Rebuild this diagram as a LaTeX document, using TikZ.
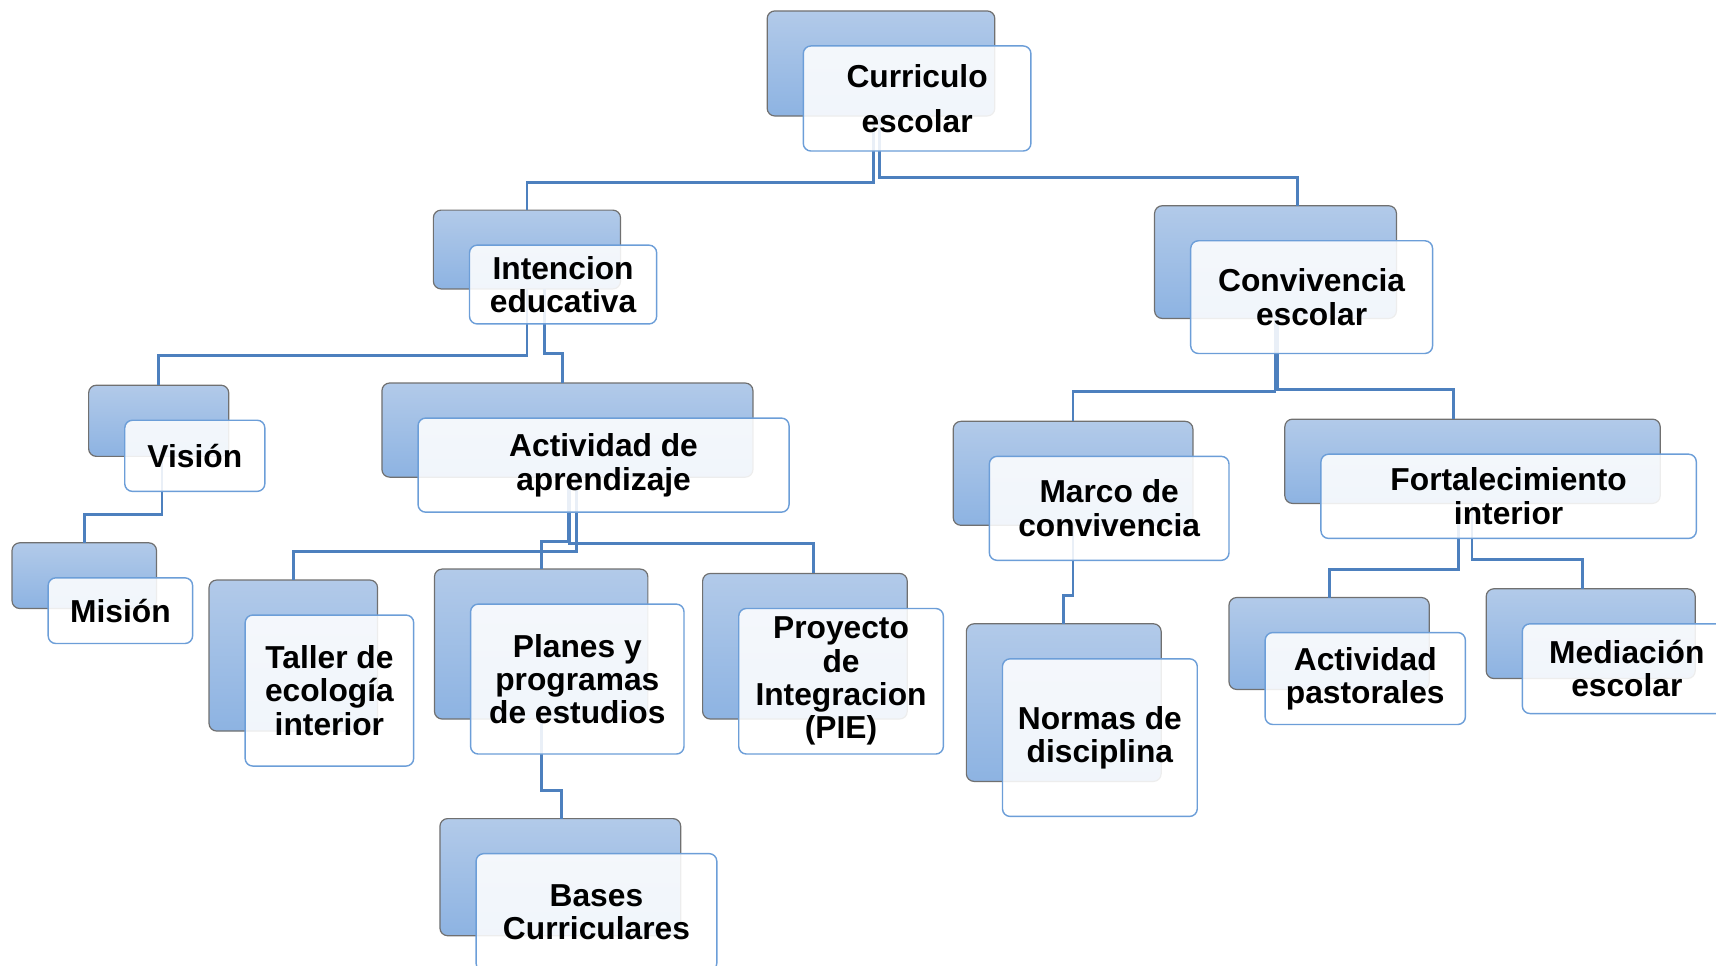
\documentclass[tikz,border=0pt]{standalone}
\usepackage{fontspec}
\setmainfont{Liberation Sans}
\definecolor{backtop}{RGB}{178,202,233}
\definecolor{backbot}{RGB}{141,179,226}
\definecolor{backedge}{RGB}{112,112,112}
\definecolor{frontedge}{RGB}{108,158,216}
\definecolor{connc}{RGB}{77,128,190}
\pgfdeclarelayer{backl}
\pgfdeclarelayer{connl}
\pgfsetlayers{backl,connl,main}
\tikzset{
  backbox/.style={rounded corners=7pt, draw=backedge, line width=1.1pt,
    top color=backtop, bottom color=backbot, inner sep=0pt, outer sep=0pt},
  frontbox/.style={rounded corners=7pt, draw=frontedge, line width=1.3pt,
    fill=white, fill opacity=0.88, text opacity=1, inner sep=0pt, outer sep=0pt,
    align=center, font={\fontsize{29}{30.5}\selectfont\bfseries}},
  conn/.style={draw=connc, line width=2.6pt},
}
\newcommand\duo[7][]{%
  \begin{pgfonlayer}{backl}
  \node[backbox, minimum width=#5, minimum height=#6, anchor=north west] (#2b) at (#3,#4) {};
  \end{pgfonlayer}
  \node[frontbox, minimum width=#5, minimum height=#6, anchor=north west, #1] (#2) at ({#3+33},{#4+32}) {#7};
}
\begin{document}
\begin{tikzpicture}[x=1pt, y=-1pt]
\useasboundingbox (0,0) rectangle (1568,882);
\duo[font={\fontsize{29}{41}\selectfont\bfseries}]{cur}{701}{10}{208}{96}{Curriculo\\escolar}
\duo{int}{396}{192}{171}{72}{Intencion\\educativa}
\duo{con}{1055}{188}{221}{103}{Convivencia\\escolar}
\duo{vis}{81}{352}{128}{65}{Visión}
\duo{mis}{11}{496}{132}{60}{Misión}
\duo{act}{349}{350}{339}{86}{Actividad de\\aprendizaje}
\duo{tal}{191}{530}{154}{138}{Taller de\\ecología\\interior}
\duo{pla}{397}{520}{195}{137}{Planes y\\programas\\de estudios}
\duo{pro}{642}{524}{187}{133}{Proyecto\\de\\Integracion\\(PIE)}
\duo{bas}{402}{748}{220}{107}{Bases\\Curriculares}
\duo{mar}{871}{385}{219}{95}{Marco de\\convivencia}
\duo{for}{1174}{383}{343}{77}{Fortalecimiento\\interior}
\duo{nor}{883}{570}{178}{144}{Normas de\\disciplina}
\duo{pas}{1123}{546}{183}{84}{Actividad\\pastorales}
\duo{med}{1358}{538}{191}{82}{Mediación\\escolar}
\begin{pgfonlayer}{connl}
\draw[conn] ([xshift=-7pt]curb.south) -- ++(0,61) -| (intb.north);
\draw[conn] ([xshift=-1pt]curb.south) -- ++(0,56) -| ([xshift=20pt]conb.north);
\draw[conn] (intb.south) -- ++(0,61) -| (visb.north);
\draw[conn] ([xshift=16pt]intb.south) -- ++(0,59) -| ([xshift=-4.5pt]actb.north);
\draw[conn] ([xshift=3pt]visb.south) -- ++(0,53) -| (misb.north);
\draw[conn] ([xshift=0.5pt]actb.south) -- ++(0,59) -| (plab.north);
\draw[conn] ([xshift=2pt]actb.south) -- ++(0,61) -| ([xshift=7.5pt]prob.north);
\draw[conn] ([xshift=8.5pt]actb.south) -- ++(0,68) -| (talb.north);
\draw[conn] (plab.south) -- ++(0,65) -| ([xshift=1pt]basb.north);
\draw[conn] ([xshift=-0.5pt]conb.south) -- ++(0,67) -| (marb.north);
\draw[conn] ([xshift=1.5pt]conb.south) -- ++(0,65) -| ([xshift=-17.5pt]forb.north);
\draw[conn] (marb.south) -- ++(0,64) -| (norb.north);
\draw[conn] ([xshift=-12.5pt]forb.south) -- ++(0,60) -| (pasb.north);
\draw[conn] ([xshift=-0.5pt]forb.south) -- ++(0,51) -| ([xshift=-7.5pt]medb.north);
\end{pgfonlayer}
\end{tikzpicture}
\end{document}
